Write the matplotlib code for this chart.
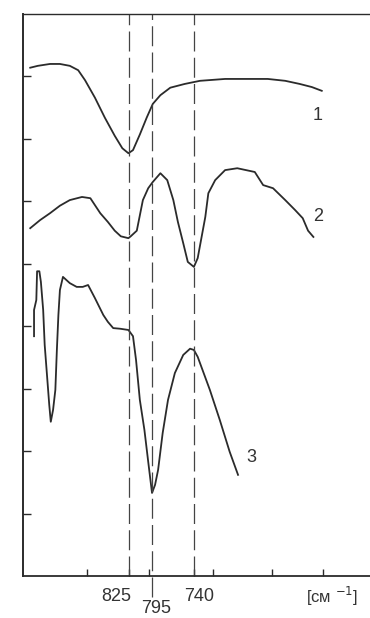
import matplotlib
matplotlib.use("Agg")
import matplotlib.pyplot as plt
from matplotlib.transforms import blended_transform_factory

plt.rcParams["font.family"] = ["Liberation Sans", "DejaVu Sans"]

# spectra: wavenumber (cm^-1) vs. transmittance (arb. units)
wn_1 = [955, 945, 929, 916, 903, 892, 883, 870, 857, 844, 834, 826, 820, 811,
        802, 794, 784, 771, 752, 732, 699, 666, 643, 620, 601, 585, 572]
t_1 = [8.14, 8.17, 8.20, 8.20, 8.17, 8.10, 7.94, 7.66, 7.34, 7.05, 6.85, 6.77,
       6.82, 7.07, 7.34, 7.56, 7.70, 7.82, 7.88, 7.93, 7.96, 7.96, 7.96, 7.93,
       7.88, 7.83, 7.77]

wn_2 = [955, 942, 929, 916, 903, 887, 876, 863, 853, 844, 836, 826, 823, 815,
        807, 800, 794, 784, 775, 767, 761, 754, 748, 740, 735, 725, 721, 712,
        699, 683, 660, 649, 636, 620, 607, 597, 590, 583]
t_2 = [5.57, 5.70, 5.81, 5.93, 6.02, 6.07, 6.05, 5.81, 5.67, 5.53, 5.44, 5.41,
       5.44, 5.53, 6.02, 6.21, 6.31, 6.45, 6.34, 6.02, 5.67, 5.33, 5.03, 4.95,
       5.09, 5.75, 6.13, 6.34, 6.50, 6.53, 6.47, 6.26, 6.21, 6.02, 5.86, 5.73,
       5.53, 5.43]

wn_3 = [950, 950, 947, 946, 943, 941, 938, 936, 933, 930, 928, 925, 922, 920,
        918, 916, 912, 903, 894, 886, 879, 870, 859, 853, 846, 837, 826, 820,
        816, 811, 805, 800, 795, 791, 787, 781, 774, 765, 754, 745, 740, 735,
        719, 706, 693, 682]
t_3 = [3.84, 4.26, 4.42, 4.88, 4.88, 4.71, 4.26, 3.70, 3.22, 2.74, 2.47, 2.66,
       2.98, 3.62, 4.18, 4.58, 4.79, 4.69, 4.63, 4.63, 4.66, 4.45, 4.18, 4.07,
       3.97, 3.96, 3.94, 3.84, 3.46, 2.82, 2.34, 1.83, 1.33, 1.46, 1.70, 2.29,
       2.82, 3.25, 3.54, 3.64, 3.62, 3.51, 2.98, 2.50, 1.99, 1.62]

curves = [(wn_1, t_1, "1"), (wn_2, t_2, "2"), (wn_3, t_3, "3")]
label_pos = [(577, 7.38), (577, 5.75), (665, 1.89)]

band_marks = [825, 795, 740]
x_ticks = [880, 825, 799, 740, 715, 637, 570]
y_ticks = [1, 2, 3, 4, 5, 6, 7, 8]

W, H = 370, 618
fig = plt.figure(figsize=(W / 100, H / 100), dpi=100)
ax = fig.add_axes([23 / W, 42 / H, 349 / W, 562 / H])

ink = "#2b2b2b"
for (x, y, name), (lx, ly) in zip(curves, label_pos):
    ax.plot(x, y, color=ink, lw=1.3, solid_joinstyle="round")
    ax.text(lx, ly, name, fontsize=13, color="#333333", ha="center", va="center")

for b in band_marks:
    lo = -0.34 if b == 795 else 0
    ax.plot([b, b], [lo, 9], color="#444444", lw=0.9, dashes=(16, 5),
            clip_on=False)

ax.set_xlim(964.5, 506)
ax.set_ylim(0, 9)
ax.set_xticks(x_ticks)
ax.set_yticks(y_ticks)
ax.set_xticklabels([])
ax.set_yticklabels([])
ax.tick_params(axis="both", direction="in", length=6, width=1.0, color=ink)
ax.tick_params(axis="x", length=5)

for s in ("left", "bottom", "top"):
    ax.spines[s].set_color(ink)
ax.spines["left"].set_linewidth(1.4)
ax.spines["bottom"].set_linewidth(1.3)
ax.spines["top"].set_linewidth(1.0)
ax.spines["right"].set_visible(False)

tr = blended_transform_factory(ax.transData, ax.transAxes)
ax.text(842, -0.036, "825", transform=tr, fontsize=13, color="#333333",
        ha="center", va="center")
ax.text(790, -0.057, "795", transform=tr, fontsize=13, color="#333333",
        ha="center", va="center")
ax.text(733, -0.036, "740", transform=tr, fontsize=13, color="#333333",
        ha="center", va="center")
ax.text(558, -0.036, "[см $^{-1}$]", transform=tr, fontsize=12,
        color="#333333", ha="center", va="center")

fig.savefig("out.png", dpi=100, facecolor="white")
